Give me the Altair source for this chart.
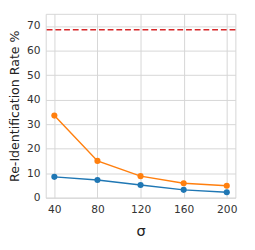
import altair as alt
import pandas as pd

sigma = [40, 80, 120, 160, 200]
blue_vals = [8.5, 7.2, 5.2, 3.2, 2.2]
orange_vals = [33.5, 15.0, 8.8, 5.9, 4.9]
baseline = [68.5]
y_ticks = [0, 10, 20, 30, 40, 50, 60, 70]
series_names = ["A", "B"]
colors = ["#1f77b4", "#ff7f0e"]

df = pd.DataFrame({
    "sigma": sigma * 2,
    "rate": blue_vals + orange_vals,
    "series": [series_names[0]] * 5 + [series_names[1]] * 5,
})
base_df = pd.DataFrame({"rate": baseline})

x = alt.X("sigma:Q", scale=alt.Scale(domain=[32, 208], nice=False, zero=False),
          axis=alt.Axis(values=sigma, title="σ", titleFontSize=15, titleFontWeight="normal",
                        titleColor="#222", titlePadding=10, labelFontSize=11, labelColor="#333",
                        labelPadding=6, ticks=False, domain=False, gridColor="#d6d6d6",
                        labelOverlap=False))
y = alt.Y("rate:Q", scale=alt.Scale(domain=[0, 75], nice=False),
          axis=alt.Axis(values=y_ticks, title="Re-Identification Rate %",
                        titleFontSize=13, titleFontWeight="normal", titleColor="#222", titlePadding=5,
                        labelFontSize=11, labelColor="#333", labelPadding=6, ticks=False,
                        domain=False, gridColor="#d6d6d6", labelOverlap=False))

color = alt.Color("series:N", scale=alt.Scale(domain=series_names, range=colors), legend=None)

lines = alt.Chart(df).mark_line(strokeWidth=1.5).encode(x=x, y=y, color=color)
points = alt.Chart(df).mark_circle(size=40, opacity=1).encode(x=x, y=y, color=color)
rule = alt.Chart(base_df).mark_rule(color="#d62728", strokeDash=[6, 3], strokeWidth=1.5).encode(y=y)

chart = alt.layer(lines, points, rule).properties(
    width=196, height=190,
    autosize=alt.AutoSizeParams(type="none"),
    padding={"left": 39, "top": 2, "right": 12, "bottom": 50},
).configure_view(stroke="#d6d6d6", strokeWidth=1).configure_axis(
    labelFont="DejaVu Sans", titleFont="DejaVu Sans"
)

chart.save("out.html", embed_options={"renderer": "svg", "actions": False})
